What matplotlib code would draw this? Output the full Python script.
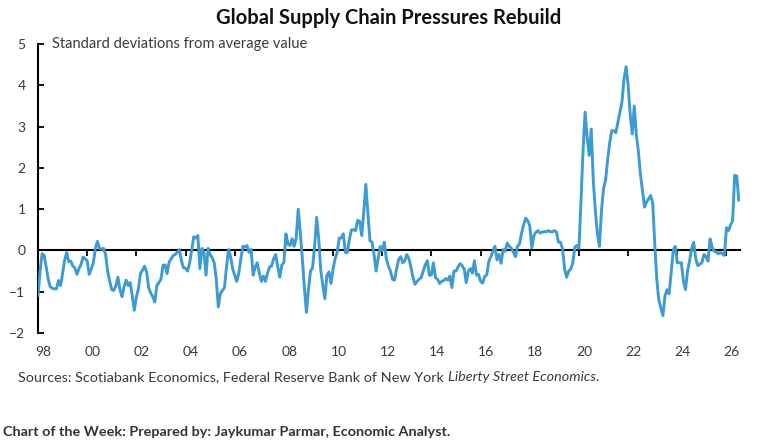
import matplotlib
matplotlib.use('Agg')
import matplotlib.pyplot as plt
import numpy as np

# GSCPI, monthly, standard deviations from average value
v1998 = [-1.09, -0.5, -0.08, -0.12, -0.4, -0.7, -0.88, -0.92, -0.93, -0.93, -0.73, -0.85]
v1999 = [-0.56, -0.24, -0.05, -0.27, -0.26, -0.38, -0.42, -0.58, -0.44, -0.34, -0.16, -0.2]
v2000 = [-0.25, -0.58, -0.45, -0.3, 0.05, 0.22, 0.05, 0.03, 0.05, -0.1, -0.5, -0.75]
v2001 = [-0.95, -0.97, -0.85, -0.65, -0.95, -1.12, -0.88, -0.72, -0.85, -0.78, -1.1, -1.45]
v2002 = [-1.13, -0.93, -0.56, -0.48, -0.38, -0.52, -0.9, -1.03, -1.12, -1.25, -0.85, -0.78]
v2003 = [-0.7, -0.36, -0.35, -0.56, -0.28, -0.2, -0.12, -0.1, -0.04, 0.02, -0.25, -0.42]
v2004 = [-0.43, -0.5, -0.3, 0.0, 0.33, 0.3, 0.36, -0.44, 0.05, -0.05, -0.6, 0.05]
v2005 = [-0.1, -0.18, -0.3, -0.7, -1.37, -1.05, -0.97, -0.9, -0.4, 0.02, -0.15, -0.45]
v2006 = [-0.6, -0.75, -0.55, -0.2, 0.1, 0.08, 0.12, -0.05, 0.02, -0.6, -0.4, -0.3]
v2007 = [-0.55, -0.75, -0.62, -0.75, -0.55, -0.4, -0.38, -0.2, -0.1, -0.4, -0.65, -0.35]
v2008 = [-0.3, 0.4, 0.15, 0.12, 0.28, 0.1, 0.3, 1.0, 0.45, -0.2, -0.9, -1.5]
v2009 = [-0.95, -0.5, -0.42, 0.1, 0.8, 0.28, -0.48, -0.85, -1.17, -0.6, -0.52, -0.8]
v2010 = [-0.45, -0.2, -0.05, 0.3, 0.3, 0.4, -0.05, -0.05, 0.28, 0.5, 0.5, 0.48]
v2011 = [0.73, 0.7, 0.36, 0.95, 1.6, 0.9, 0.24, 0.2, -0.1, -0.5, -0.2, 0.1]
v2012 = [0.0, 0.2, -0.2, -0.38, -0.5, -0.7, -0.72, -0.45, -0.22, -0.15, -0.3, -0.25]
v2013 = [-0.1, -0.2, -0.4, -0.65, -0.82, -0.75, -0.7, -0.66, -0.5, -0.35, -0.25, -0.6]
v2014 = [-0.59, -0.3, -0.66, -0.7, -0.8, -0.75, -0.73, -0.68, -0.72, -0.62, -0.9, -0.5]
v2015 = [-0.5, -0.4, -0.32, -0.37, -0.45, -0.78, -0.5, -0.44, -0.55, -0.25, -0.6, -0.58]
v2016 = [-0.75, -0.79, -0.63, -0.59, -0.27, -0.15, -0.02, 0.1, -0.23, -0.1, -0.31, 0.02]
v2017 = [-0.02, 0.18, 0.1, 0.05, -0.04, -0.15, 0.1, 0.16, 0.42, 0.62, 0.78, 0.72]
v2018 = [0.6, 0.06, 0.36, 0.44, 0.48, 0.42, 0.44, 0.46, 0.45, 0.48, 0.45, 0.45]
v2019 = [0.48, 0.45, 0.2, 0.2, 0.04, -0.45, -0.65, -0.5, -0.45, -0.3, 0.08, 0.12]
v2020 = [0.05, 1.2, 2.42, 3.35, 2.74, 2.3, 2.94, 1.69, 0.97, 0.4, 0.1, 0.97]
v2021 = [1.5, 1.7, 2.2, 2.6, 2.9, 2.9, 2.85, 3.1, 3.35, 3.6, 4.15, 4.45]
v2022 = [4.0, 3.3, 2.82, 3.5, 2.8, 2.4, 1.85, 1.45, 1.05, 1.17, 1.25, 1.33]
v2023 = [1.15, 0.16, -0.7, -1.21, -1.4, -1.58, -1.1, -0.95, -1.05, -0.55, 0.0, 0.1]
v2024 = [-0.3, -0.3, -0.3, -0.75, -0.95, -0.5, -0.25, 0.05, 0.2, -0.2, -0.37, -0.33]
v2025 = [-0.3, -0.1, -0.15, -0.26, 0.28, 0.08, -0.02, -0.04, -0.08, -0.05, -0.08, -0.12]
v2026 = [0.55, 0.48, 0.62, 0.72, 1.82, 1.8, 1.22]

tick_years = list(range(1998, 2027, 2))
tick_labels = ['98', '00', '02', '04', '06', '08', '10', '12', '14', '16', '18', '20', '22', '24', '26']

values = np.concatenate([v1998, v1999, v2000, v2001, v2002, v2003, v2004, v2005, v2006, v2007,
                         v2008, v2009, v2010, v2011, v2012, v2013, v2014, v2015, v2016, v2017,
                         v2018, v2019, v2020, v2021, v2022, v2023, v2024, v2025, v2026])
months = 1998 + np.arange(len(values)) / 12

plt.rcParams['font.family'] = ['Lato', 'DejaVu Sans']
text_col = '#3a3a3a'
line_col = '#3b9bd2'

W, H = 763, 442
fig = plt.figure(figsize=(W / 100, H / 100), dpi=100)
ax = fig.add_axes([38 / W, (H - 333) / H, (740 - 38) / W, (333 - 44) / H])

ax.plot(months, values, color=line_col, lw=2.1, solid_joinstyle='round', zorder=3)
ax.set_xlim(1998, 2026.55)
ax.set_ylim(-2, 5)

ax.spines[['top', 'right']].set_visible(False)
ax.spines['bottom'].set_position(('data', 0))
ax.spines['left'].set_linewidth(1.5)
ax.spines['bottom'].set_linewidth(1.5)

ax.set_yticks(range(-2, 6))
ax.tick_params(axis='y', direction='in', length=4, width=1.3, pad=9,
               labelsize=10, labelcolor=text_col)
ax.set_xticks(tick_years)
ax.tick_params(axis='x', direction='out', length=4, width=1.3, labelbottom=False)

# year labels sit below the plot, a little right of each tick
sec = ax.secondary_xaxis(0)
sec.set_xticks([y + 0.22 for y in tick_years], labels=tick_labels)
sec.spines['bottom'].set_visible(False)
sec.tick_params(length=0, pad=9, labelsize=10, labelcolor=text_col)

fig.text(52 / W, 1 - 44 / H, 'Standard deviations from average value', fontsize=10.5,
         color=text_col, va='center', ha='left')
fig.text(389 / W, 1 - 18 / H, 'Global Supply Chain Pressures Rebuild', fontsize=14.5,
         fontweight='bold', color='#111111', va='center', ha='center')

src = fig.text(18 / W, 1 - 377 / H, 'Sources: Scotiabank Economics, Federal Reserve Bank of New York ',
               fontsize=10.4, color=text_col, va='center', ha='left')
src2 = plt.annotate('Liberty Street Economics', xy=(1, 0), xycoords=src, va='bottom', ha='left',
                    fontsize=10.4, color=text_col, style='italic')
plt.annotate('.', xy=(1, 0), xycoords=src2, va='bottom', ha='left', fontsize=10.4, color=text_col)

fig.text(3 / W, 1 - 432 / H, 'Chart of the Week: Prepared by: Jaykumar Parmar, Economic Analyst.',
         fontsize=10.4, fontweight='bold', color='#333333', va='center', ha='left')

fig.savefig('out.png', dpi=100, facecolor='white')
